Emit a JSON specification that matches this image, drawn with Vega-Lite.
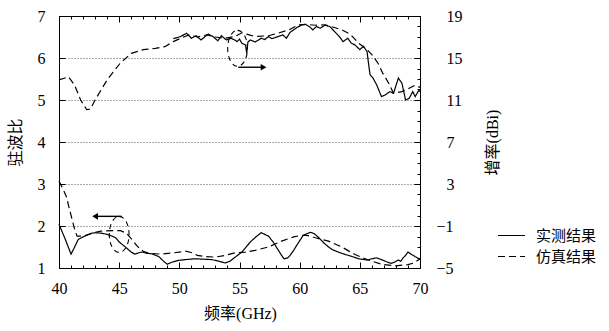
{
  "$schema": "https://vega.github.io/schema/vega-lite/v6.json",
  "width": 361,
  "height": 252,
  "autosize": {"type": "none"},
  "padding": {"left": 59, "top": 16, "right": 189, "bottom": 63},
  "config": {
    "font": "'Liberation Serif', 'Noto Sans CJK SC', serif",
    "view": {"stroke": "black", "strokeWidth": 1},
    "axis": {
      "labelFont": "'Liberation Serif', 'Noto Sans CJK SC', serif",
      "titleFont": "'Liberation Serif', 'Noto Sans CJK SC', serif",
      "labelFontSize": 16,
      "titleFontSize": 16,
      "titleFontWeight": "normal",
      "labelColor": "black",
      "titleColor": "black",
      "domainColor": "black",
      "tickColor": "black",
      "tickWidth": 1,
      "labelFlush": false,
      "labelOverlap": false,
      "labelBound": false
    }
  },
  "datasets": {
    "vswr": [
      {"f": 40.0, "v": 2.04, "s": "实测结果"}, {"f": 40.5, "v": 1.7, "s": "实测结果"}, {"f": 41.0, "v": 1.33, "s": "实测结果"},
      {"f": 41.3, "v": 1.5, "s": "实测结果"}, {"f": 41.6, "v": 1.68, "s": "实测结果"}, {"f": 42.0, "v": 1.74, "s": "实测结果"},
      {"f": 42.6, "v": 1.82, "s": "实测结果"}, {"f": 43.0, "v": 1.84, "s": "实测结果"}, {"f": 43.5, "v": 1.83, "s": "实测结果"},
      {"f": 44.0, "v": 1.8, "s": "实测结果"}, {"f": 44.4, "v": 1.76, "s": "实测结果"}, {"f": 44.7, "v": 1.72, "s": "实测结果"},
      {"f": 45.0, "v": 1.62, "s": "实测结果"}, {"f": 45.6, "v": 1.48, "s": "实测结果"}, {"f": 46.0, "v": 1.38, "s": "实测结果"},
      {"f": 46.3, "v": 1.33, "s": "实测结果"}, {"f": 46.6, "v": 1.36, "s": "实测结果"}, {"f": 46.9, "v": 1.38, "s": "实测结果"},
      {"f": 47.3, "v": 1.35, "s": "实测结果"}, {"f": 47.7, "v": 1.34, "s": "实测结果"}, {"f": 48.3, "v": 1.27, "s": "实测结果"},
      {"f": 48.7, "v": 1.16, "s": "实测结果"}, {"f": 49.0, "v": 1.09, "s": "实测结果"}, {"f": 49.3, "v": 1.13, "s": "实测结果"},
      {"f": 49.9, "v": 1.18, "s": "实测结果"}, {"f": 50.5, "v": 1.2, "s": "实测结果"}, {"f": 51.3, "v": 1.22, "s": "实测结果"},
      {"f": 52.0, "v": 1.21, "s": "实测结果"}, {"f": 52.7, "v": 1.2, "s": "实测结果"}, {"f": 53.3, "v": 1.16, "s": "实测结果"},
      {"f": 53.8, "v": 1.12, "s": "实测结果"}, {"f": 54.2, "v": 1.16, "s": "实测结果"}, {"f": 54.6, "v": 1.25, "s": "实测结果"},
      {"f": 55.2, "v": 1.38, "s": "实测结果"}, {"f": 55.9, "v": 1.62, "s": "实测结果"}, {"f": 56.4, "v": 1.75, "s": "实测结果"},
      {"f": 56.8, "v": 1.84, "s": "实测结果"}, {"f": 57.1, "v": 1.8, "s": "实测结果"}, {"f": 57.4, "v": 1.76, "s": "实测结果"},
      {"f": 57.8, "v": 1.62, "s": "实测结果"}, {"f": 58.1, "v": 1.48, "s": "实测结果"}, {"f": 58.5, "v": 1.3, "s": "实测结果"},
      {"f": 58.7, "v": 1.22, "s": "实测结果"}, {"f": 59.0, "v": 1.24, "s": "实测结果"}, {"f": 59.2, "v": 1.3, "s": "实测结果"},
      {"f": 59.5, "v": 1.42, "s": "实测结果"}, {"f": 59.8, "v": 1.56, "s": "实测结果"}, {"f": 60.3, "v": 1.78, "s": "实测结果"},
      {"f": 60.9, "v": 1.85, "s": "实测结果"}, {"f": 61.2, "v": 1.82, "s": "实测结果"}, {"f": 61.6, "v": 1.72, "s": "实测结果"},
      {"f": 62.0, "v": 1.6, "s": "实测结果"}, {"f": 62.4, "v": 1.5, "s": "实测结果"}, {"f": 62.7, "v": 1.44, "s": "实测结果"},
      {"f": 63.2, "v": 1.38, "s": "实测结果"}, {"f": 63.8, "v": 1.32, "s": "实测结果"}, {"f": 64.3, "v": 1.28, "s": "实测结果"},
      {"f": 64.9, "v": 1.22, "s": "实测结果"}, {"f": 65.6, "v": 1.19, "s": "实测结果"}, {"f": 66.0, "v": 1.22, "s": "实测结果"},
      {"f": 66.4, "v": 1.24, "s": "实测结果"}, {"f": 66.8, "v": 1.2, "s": "实测结果"}, {"f": 67.2, "v": 1.15, "s": "实测结果"},
      {"f": 67.6, "v": 1.11, "s": "实测结果"}, {"f": 67.9, "v": 1.14, "s": "实测结果"}, {"f": 68.2, "v": 1.19, "s": "实测结果"},
      {"f": 68.4, "v": 1.16, "s": "实测结果"}, {"f": 68.6, "v": 1.24, "s": "实测结果"}, {"f": 68.8, "v": 1.3, "s": "实测结果"},
      {"f": 69.0, "v": 1.38, "s": "实测结果"}, {"f": 69.3, "v": 1.32, "s": "实测结果"}, {"f": 69.6, "v": 1.27, "s": "实测结果"},
      {"f": 69.8, "v": 1.24, "s": "实测结果"}, {"f": 70.0, "v": 1.2, "s": "实测结果"},
      {"f": 40.0, "v": 3.07, "s": "仿真结果"}, {"f": 40.3, "v": 2.9, "s": "仿真结果"}, {"f": 40.6, "v": 2.71, "s": "仿真结果"},
      {"f": 40.95, "v": 2.31, "s": "仿真结果"}, {"f": 41.3, "v": 1.92, "s": "仿真结果"}, {"f": 41.5, "v": 1.76, "s": "仿真结果"},
      {"f": 42.0, "v": 1.76, "s": "仿真结果"}, {"f": 42.5, "v": 1.8, "s": "仿真结果"}, {"f": 43.0, "v": 1.85, "s": "仿真结果"},
      {"f": 43.5, "v": 1.88, "s": "仿真结果"}, {"f": 44.5, "v": 1.89, "s": "仿真结果"}, {"f": 45.1, "v": 1.89, "s": "仿真结果"},
      {"f": 45.6, "v": 1.83, "s": "仿真结果"}, {"f": 46.0, "v": 1.7, "s": "仿真结果"}, {"f": 46.5, "v": 1.52, "s": "仿真结果"},
      {"f": 47.0, "v": 1.4, "s": "仿真结果"}, {"f": 47.5, "v": 1.35, "s": "仿真结果"}, {"f": 48.5, "v": 1.33, "s": "仿真结果"},
      {"f": 49.5, "v": 1.36, "s": "仿真结果"}, {"f": 50.0, "v": 1.38, "s": "仿真结果"}, {"f": 50.5, "v": 1.4, "s": "仿真结果"},
      {"f": 51.0, "v": 1.37, "s": "仿真结果"}, {"f": 51.5, "v": 1.3, "s": "仿真结果"}, {"f": 52.2, "v": 1.27, "s": "仿真结果"},
      {"f": 53.0, "v": 1.26, "s": "仿真结果"}, {"f": 53.8, "v": 1.3, "s": "仿真结果"}, {"f": 54.6, "v": 1.36, "s": "仿真结果"},
      {"f": 55.5, "v": 1.38, "s": "仿真结果"}, {"f": 56.3, "v": 1.42, "s": "仿真结果"}, {"f": 57.4, "v": 1.5, "s": "仿真结果"},
      {"f": 58.5, "v": 1.64, "s": "仿真结果"}, {"f": 59.5, "v": 1.74, "s": "仿真结果"}, {"f": 60.2, "v": 1.78, "s": "仿真结果"},
      {"f": 60.7, "v": 1.77, "s": "仿真结果"}, {"f": 61.3, "v": 1.72, "s": "仿真结果"}, {"f": 62.4, "v": 1.64, "s": "仿真结果"},
      {"f": 63.5, "v": 1.5, "s": "仿真结果"}, {"f": 64.6, "v": 1.32, "s": "仿真结果"}, {"f": 65.7, "v": 1.19, "s": "仿真结果"},
      {"f": 66.8, "v": 1.09, "s": "仿真结果"}, {"f": 67.9, "v": 1.05, "s": "仿真结果"}, {"f": 69.0, "v": 1.08, "s": "仿真结果"},
      {"f": 69.5, "v": 1.12, "s": "仿真结果"}, {"f": 70.0, "v": 1.22, "s": "仿真结果"}
    ],
    "gain": [
      {"f": 49.5, "g": 16.84, "s": "实测结果"}, {"f": 50.1, "g": 17.04, "s": "实测结果"}, {"f": 50.6, "g": 17.36, "s": "实测结果"},
      {"f": 51.0, "g": 16.88, "s": "实测结果"}, {"f": 51.4, "g": 17.12, "s": "实测结果"}, {"f": 51.8, "g": 16.72, "s": "实测结果"},
      {"f": 52.1, "g": 17.0, "s": "实测结果"}, {"f": 52.4, "g": 17.28, "s": "实测结果"}, {"f": 52.8, "g": 17.04, "s": "实测结果"},
      {"f": 53.2, "g": 16.64, "s": "实测结果"}, {"f": 53.5, "g": 17.12, "s": "实测结果"}, {"f": 53.9, "g": 16.72, "s": "实测结果"},
      {"f": 54.3, "g": 16.88, "s": "实测结果"}, {"f": 54.6, "g": 16.72, "s": "实测结果"}, {"f": 54.8, "g": 16.56, "s": "实测结果"},
      {"f": 55.0, "g": 16.8, "s": "实测结果"}, {"f": 55.2, "g": 16.4, "s": "实测结果"}, {"f": 55.5, "g": 16.24, "s": "实测结果"},
      {"f": 55.6, "g": 15.44, "s": "实测结果"}, {"f": 55.7, "g": 16.52, "s": "实测结果"}, {"f": 55.9, "g": 16.72, "s": "实测结果"},
      {"f": 56.3, "g": 16.52, "s": "实测结果"}, {"f": 56.8, "g": 16.88, "s": "实测结果"}, {"f": 57.1, "g": 16.76, "s": "实测结果"},
      {"f": 57.4, "g": 17.04, "s": "实测结果"}, {"f": 57.7, "g": 16.84, "s": "实测结果"}, {"f": 58.2, "g": 17.04, "s": "实测结果"},
      {"f": 58.6, "g": 17.2, "s": "实测结果"}, {"f": 58.9, "g": 16.88, "s": "实测结果"}, {"f": 59.2, "g": 17.44, "s": "实测结果"},
      {"f": 59.5, "g": 17.68, "s": "实测结果"}, {"f": 59.8, "g": 17.92, "s": "实测结果"}, {"f": 60.2, "g": 18.16, "s": "实测结果"},
      {"f": 60.5, "g": 18.2, "s": "实测结果"}, {"f": 60.8, "g": 18.0, "s": "实测结果"}, {"f": 61.1, "g": 17.68, "s": "实测结果"},
      {"f": 61.4, "g": 18.0, "s": "实测结果"}, {"f": 61.7, "g": 17.84, "s": "实测结果"}, {"f": 62.1, "g": 18.12, "s": "实测结果"},
      {"f": 62.5, "g": 18.0, "s": "实测结果"}, {"f": 62.9, "g": 17.52, "s": "实测结果"}, {"f": 63.3, "g": 17.04, "s": "实测结果"},
      {"f": 63.6, "g": 16.56, "s": "实测结果"}, {"f": 64.0, "g": 16.88, "s": "实测结果"}, {"f": 64.3, "g": 16.4, "s": "实测结果"},
      {"f": 64.6, "g": 16.24, "s": "实测结果"}, {"f": 65.0, "g": 15.8, "s": "实测结果"}, {"f": 65.3, "g": 16.12, "s": "实测结果"},
      {"f": 65.6, "g": 15.6, "s": "实测结果"}, {"f": 65.7, "g": 14.68, "s": "实测结果"}, {"f": 65.85, "g": 13.4, "s": "实测结果"},
      {"f": 66.1, "g": 13.08, "s": "实测结果"}, {"f": 66.4, "g": 12.44, "s": "实测结果"}, {"f": 66.8, "g": 11.32, "s": "实测结果"},
      {"f": 67.1, "g": 11.48, "s": "实测结果"}, {"f": 67.5, "g": 11.8, "s": "实测结果"}, {"f": 67.8, "g": 11.64, "s": "实测结果"},
      {"f": 68.2, "g": 13.08, "s": "实测结果"}, {"f": 68.5, "g": 12.6, "s": "实测结果"}, {"f": 68.8, "g": 11.0, "s": "实测结果"},
      {"f": 69.1, "g": 11.16, "s": "实测结果"}, {"f": 69.4, "g": 11.8, "s": "实测结果"}, {"f": 69.6, "g": 11.32, "s": "实测结果"},
      {"f": 69.9, "g": 11.92, "s": "实测结果"}, {"f": 70.0, "g": 11.8, "s": "实测结果"},
      {"f": 40.0, "g": 12.92, "s": "仿真结果"}, {"f": 40.8, "g": 13.2, "s": "仿真结果"}, {"f": 41.3, "g": 12.4, "s": "仿真结果"},
      {"f": 41.8, "g": 11.0, "s": "仿真结果"}, {"f": 42.3, "g": 10.08, "s": "仿真结果"}, {"f": 42.6, "g": 10.12, "s": "仿真结果"},
      {"f": 43.0, "g": 11.0, "s": "仿真结果"}, {"f": 44.0, "g": 12.92, "s": "仿真结果"}, {"f": 45.1, "g": 14.52, "s": "仿真结果"},
      {"f": 46.0, "g": 15.44, "s": "仿真结果"}, {"f": 47.0, "g": 15.8, "s": "仿真结果"}, {"f": 48.0, "g": 15.92, "s": "仿真结果"},
      {"f": 48.8, "g": 16.08, "s": "仿真结果"}, {"f": 49.5, "g": 16.56, "s": "仿真结果"}, {"f": 50.1, "g": 16.88, "s": "仿真结果"},
      {"f": 50.8, "g": 17.2, "s": "仿真结果"}, {"f": 51.5, "g": 17.0, "s": "仿真结果"}, {"f": 52.3, "g": 17.2, "s": "仿真结果"},
      {"f": 53.0, "g": 17.0, "s": "仿真结果"}, {"f": 53.8, "g": 16.88, "s": "仿真结果"}, {"f": 54.6, "g": 17.04, "s": "仿真结果"},
      {"f": 55.2, "g": 17.4, "s": "仿真结果"}, {"f": 55.8, "g": 17.2, "s": "仿真结果"}, {"f": 56.3, "g": 17.04, "s": "仿真结果"},
      {"f": 57.4, "g": 17.12, "s": "仿真结果"}, {"f": 58.2, "g": 17.36, "s": "仿真结果"}, {"f": 59.1, "g": 17.68, "s": "仿真结果"},
      {"f": 59.9, "g": 18.16, "s": "仿真结果"}, {"f": 60.5, "g": 18.2, "s": "仿真结果"}, {"f": 61.3, "g": 18.12, "s": "仿真结果"},
      {"f": 62.1, "g": 18.16, "s": "仿真结果"}, {"f": 62.6, "g": 18.0, "s": "仿真结果"}, {"f": 63.5, "g": 17.68, "s": "仿真结果"},
      {"f": 64.2, "g": 17.28, "s": "仿真结果"}, {"f": 64.9, "g": 16.4, "s": "仿真结果"}, {"f": 65.6, "g": 15.8, "s": "仿真结果"},
      {"f": 66.0, "g": 15.32, "s": "仿真结果"}, {"f": 66.5, "g": 14.52, "s": "仿真结果"}, {"f": 66.9, "g": 13.56, "s": "仿真结果"},
      {"f": 67.4, "g": 12.6, "s": "仿真结果"}, {"f": 67.8, "g": 11.64, "s": "仿真结果"}, {"f": 68.5, "g": 11.8, "s": "仿真结果"},
      {"f": 69.1, "g": 12.12, "s": "仿真结果"}, {"f": 69.6, "g": 12.4, "s": "仿真结果"}, {"f": 70.0, "g": 12.2, "s": "仿真结果"}
    ],
    "ellipses": [
      {"f": 54.84, "v": 6.23},
      {"f": 45.0, "v": 1.8}
    ],
    "arrows": [
      {"f1": 54.9, "f2": 57.0, "v": 5.78, "dir": "right"},
      {"f1": 45.2, "f2": 43.0, "v": 2.23, "dir": "left"}
    ]
  },
  "layer": [
    {
      "layer": [
        {
          "data": {"name": "vswr"},
          "mark": {"type": "line", "color": "black", "strokeWidth": 1.2},
          "encoding": {
            "x": {
              "field": "f", "type": "quantitative",
              "scale": {"domain": [40, 70], "nice": false, "zero": false},
              "axis": {
                "orient": "bottom",
                "title": "频率(GHz)",
                "values": [40, 45, 50, 55, 60, 65, 70],
                "labelOverlap": false,
                "tickSize": -6,
                "labelPadding": 18,
                "grid": false,
                "titleX": 181,
                "titleY": 45,
                "titleBaseline": "middle"
              }
            },
            "y": {
              "field": "v", "type": "quantitative",
              "scale": {"domain": [1, 7], "nice": false, "zero": false},
              "axis": {
                "orient": "left",
                "title": "驻波比",
                "values": [1,1.25,1.5,1.75,2,2.25,2.5,2.75,3,3.25,3.5,3.75,4,4.25,4.5,4.75,5,5.25,5.5,5.75,6,6.25,6.5,6.75,7],
                "labelExpr": "datum.value % 1 === 0 ? datum.label : ''",
                "labelOverlap": false,
                "tickSize": {"condition": {"test": "datum.value % 1 === 0", "value": -6}, "value": -3},
                "labelPadding": 20,
                "grid": true,
                "gridDash": [1, 2],
                "gridColor": "#555",
                "gridWidth": 1,
                "gridOpacity": {"condition": {"test": "datum.value % 0.5 === 0 && datum.value > 1 && datum.value < 7", "value": 1}, "value": 0},
                "titleX": -44,
                "titleY": 126,
                "titleAngle": -90,
                "titleAlign": "center",
                "titleBaseline": "middle"
              }
            },
            "strokeDash": {
              "field": "s", "type": "nominal",
              "scale": {"domain": ["实测结果", "仿真结果"], "range": [[1, 0], [7, 4]]},
              "legend": {
                "title": null,
                "orient": "none",
                "legendX": 438,
                "legendY": 211,
                "padding": 0,
                "symbolType": "stroke",
                "symbolSize": 729,
                "symbolStrokeWidth": 1.2,
                "symbolStrokeColor": "black",
                "labelFont": "'Noto Sans CJK SC', sans-serif",
                "labelFontSize": 15,
                "labelColor": "black",
                "labelOffset": 10,
                "clipHeight": 17,
                "rowPadding": 4
              }
            }
          }
        },
        {
          "data": {"name": "ellipses"},
          "mark": {
            "type": "point",
            "shape": "M0,-1C0.3038,-1 0.55,-0.5523 0.55,0C0.55,0.5523 0.3038,1 0,1C-0.3038,1 -0.55,0.5523 -0.55,0C-0.55,-0.5523 -0.3038,-1 0,-1Z",
            "size": 1296,
            "filled": false,
            "stroke": "black",
            "strokeWidth": 1.1,
            "strokeDash": [5, 4],
            "opacity": 1
          },
          "encoding": {
            "x": {"field": "f", "type": "quantitative"},
            "y": {"field": "v", "type": "quantitative"}
          }
        },
        {
          "data": {"name": "arrows"},
          "mark": {"type": "rule", "color": "black", "strokeWidth": 1.4},
          "encoding": {
            "x": {"field": "f1", "type": "quantitative"},
            "x2": {"field": "f2"},
            "y": {"field": "v", "type": "quantitative"}
          }
        },
        {
          "data": {"name": "arrows"},
          "mark": {"type": "point", "filled": true, "color": "black", "size": 45, "opacity": 1},
          "encoding": {
            "x": {"field": "f2", "type": "quantitative"},
            "y": {"field": "v", "type": "quantitative"},
            "shape": {"field": "dir", "type": "nominal", "scale": {"domain": ["right", "left"], "range": ["triangle-right", "triangle-left"]}, "legend": null}
          }
        }
      ]
    },
    {
      "layer": [
        {
          "data": {"name": "gain"},
          "mark": {"type": "line", "color": "black", "strokeWidth": 1.2},
          "encoding": {
            "x": {
              "field": "f", "type": "quantitative",
              "axis": {
                "orient": "top",
                "title": null,
                "labels": false,
                "values": [40,41,42,43,44,45,46,47,48,49,50,51,52,53,54,55,56,57,58,59,60,61,62,63,64,65,66,67,68,69,70],
                "tickSize": {"condition": {"test": "datum.value % 5 === 0", "value": -6}, "value": -3},
                "grid": false
              }
            },
            "y": {
              "field": "g", "type": "quantitative",
              "scale": {"domain": [-5, 19], "nice": false, "zero": false},
              "axis": {
                "orient": "right",
                "title": "增率(dBi)",
                "values": [-5,-4,-3,-2,-1,0,1,2,3,4,5,6,7,8,9,10,11,12,13,14,15,16,17,18,19],
                "labelExpr": "(datum.value + 5) % 4 === 0 ? datum.label : ''",
                "labelOverlap": false,
                "tickSize": {"condition": {"test": "(datum.value + 5) % 4 === 0", "value": -6}, "value": -3},
                "labelAlign": "left",
                "labelPadding": {"condition": {"test": "datum.value >= 0", "value": 32}, "value": 22},
                "grid": false,
                "titleX": 72,
                "titleY": 126,
                "titleAngle": -90,
                "titleAlign": "center",
                "titleBaseline": "middle"
              }
            },
            "strokeDash": {"field": "s", "type": "nominal"}
          }
        }
      ]
    },
    {
      "layer": [
        {
          "data": {"name": "ellipses"},
          "mark": {"type": "point", "opacity": 0},
          "encoding": {
            "x": {
              "field": "f", "type": "quantitative",
              "axis": {
                "orient": "bottom",
                "title": null,
                "labels": false,
                "domain": false,
                "values": [41,42,43,44,46,47,48,49,51,52,53,54,56,57,58,59,61,62,63,64,66,67,68,69],
                "tickSize": -3,
                "grid": false
              }
            },
            "y": {
              "field": "v", "type": "quantitative",
              "scale": {"domain": [1, 7], "nice": false, "zero": false},
              "axis": null
            }
          }
        }
      ]
    }
  ],
  "resolve": {"scale": {"y": "independent"}, "axis": {"x": "independent"}}
}
